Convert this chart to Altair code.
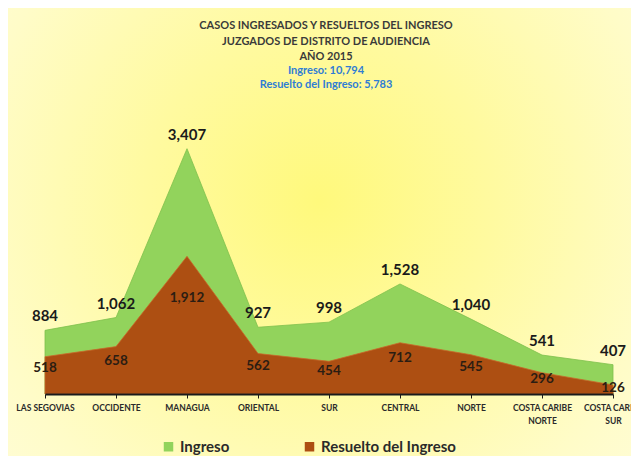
import altair as alt
import pandas as pd

# ---- data ----
regiones = ["LAS SEGOVIAS", "OCCIDENTE", "MANAGUA", "ORIENTAL", "SUR",
            "CENTRAL", "NORTE", "COSTA CARIBE NORTE", "COSTA CARIBE SUR"]
ingreso = [884, 1062, 3407, 927, 998, 1528, 1040, 541, 407]
resuelto = [518, 658, 1912, 562, 454, 712, 545, 296, 126]
series = ["Ingreso", "Resuelto del Ingreso"]
title_lines = ["CASOS INGRESADOS Y RESUELTOS DEL INGRESO",
               "JUZGADOS DE DISTRITO DE AUDIENCIA",
               "AÑO 2015"]
subtitle_lines = ["Ingreso: 10,794", "Resuelto del Ingreso: 5,783"]

GREEN = "#92d35c"
BROWN = "#ad4f12"
W, H = 568, 288
PAD = {"left": 37, "top": 98, "right": 18, "bottom": 62}

rows = []
for r, a, b in zip(regiones, ingreso, resuelto):
    rows.append({"region": r, "serie": series[0], "valor": a})
    rows.append({"region": r, "serie": series[1], "valor": b})
df = pd.DataFrame(rows)
one = pd.DataFrame({"k": [0]})

x_enc = alt.X("region:N", sort=regiones,
              scale=alt.Scale(type="point", padding=0),
              axis=alt.Axis(title=None, labelAngle=0, domainColor="#1a1a1a", domainWidth=2,
                            tickColor="#1a1a1a", tickSize=4, tickWidth=1, zindex=2,
                            labelFont="Lato", labelFontSize=8.5, labelFontWeight="bold",
                            labelColor="#2a2a2a", labelPadding=5, labelLineHeight=13,
                            labelBaseline="top",
                            labelExpr="indexof(datum.label, 'COSTA CARIBE ') == 0 ? ['COSTA CARIBE', substring(datum.label, 13)] : datum.label"))
y_scale = alt.Scale(domain=[0, 4000], nice=False, zero=True)
color_enc = alt.Color("serie:N",
                      scale=alt.Scale(domain=series, range=[GREEN, BROWN]),
                      legend=alt.Legend(title=None, orient="none", direction="horizontal",
                                        legendX=116, legendY=333, zindex=2,
                                        symbolType="square", symbolSize=90, symbolStrokeWidth=0,
                                        labelFont="Lato", labelFontSize=15, labelFontWeight="bold",
                                        labelColor="#2a2a2a", columnPadding=72, labelOffset=4))

base = alt.Chart(df)

bg = alt.Chart(one).mark_rect(
    fill=alt.Gradient(
        gradient="radial",
        stops=[alt.GradientStop(color="#fff97c", offset=0),
               alt.GradientStop(color="#fffaa0", offset=0.35),
               alt.GradientStop(color="#fffcc8", offset=0.7),
               alt.GradientStop(color="#fffde2", offset=1)],
        x1=0.5, y1=0.45, r1=0, x2=0.5, y2=0.45, r2=0.8)
).encode(x=alt.value(-PAD["left"]), x2=alt.value(W + PAD["right"]),
         y=alt.value(-PAD["top"]), y2=alt.value(H + PAD["bottom"]))

title_txt = alt.Chart(one).mark_text(
    text=title_lines, font="Lato", fontSize=11, fontWeight="bold", color="#3a3a3a",
    lineHeight=15.5, baseline="top", align="center"
).encode(x=alt.value(W / 2 - 3), y=alt.value(-86))

subtitle_txt = alt.Chart(one).mark_text(
    text=subtitle_lines, font="Lato", fontSize=11, fontWeight="bold", color="#2f7dd4",
    lineHeight=13.5, baseline="top", align="center"
).encode(x=alt.value(W / 2 - 3), y=alt.value(-41))

area_ing = base.transform_filter(alt.datum.serie == series[0]).mark_area(
    opacity=1, stroke="#7fc04c", strokeWidth=0.8
).encode(x=x_enc, y=alt.Y("valor:Q", scale=y_scale, axis=None, stack=None), color=color_enc)

area_res = base.transform_filter(alt.datum.serie == series[1]).mark_area(
    opacity=1, stroke="#c8682a", strokeWidth=0.8
).encode(x=x_enc, y=alt.Y("valor:Q", scale=y_scale, axis=None, stack=None), color=color_enc)

lab_ing = base.transform_filter(alt.datum.serie == series[0]).mark_text(
    font="Lato", fontSize=15, fontWeight="bold", color="#1a1a1a", dy=-14, baseline="middle"
).encode(x=alt.X("region:N", sort=regiones, scale=alt.Scale(type="point", padding=0)),
         y=alt.Y("valor:Q", scale=y_scale, axis=None),
         text=alt.Text("valor:Q", format=","))

lab_res = base.transform_filter(alt.datum.serie == series[1]).transform_calculate(
    ypos="datum.valor * 0.7"
).mark_text(
    font="Lato", fontSize=13.5, fontWeight="bold", color="#2b1d12", baseline="middle"
).encode(x=alt.X("region:N", sort=regiones, scale=alt.Scale(type="point", padding=0)),
         y=alt.Y("ypos:Q", scale=y_scale, axis=None),
         text=alt.Text("valor:Q", format=","))

chart = alt.layer(bg, title_txt, subtitle_txt, area_ing, area_res, lab_ing, lab_res).properties(
    width=W, height=H,
    autosize=alt.AutoSizeParams(type="none"),
    padding=PAD,
    background="#fffde8",
).configure_view(strokeWidth=0)

chart.save("out.html", embed_options={"renderer": "svg", "actions": False})
